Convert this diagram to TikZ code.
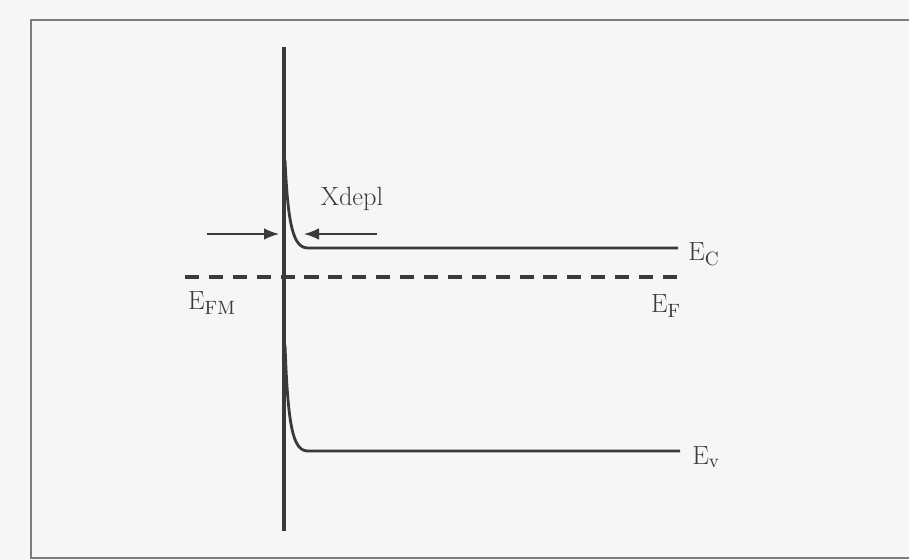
\documentclass[tikz,border=0pt]{standalone}
\usetikzlibrary{arrows.meta, positioning}
\definecolor{colorLinea}{HTML}{3A3A3A}
\definecolor{colorMarco}{HTML}{7C7C7C}
\definecolor{colorFondo}{HTML}{F6F6F6}

\begin{document}
\begin{tikzpicture}[x=0.02cm, y=-0.02cm,
        banda/.style={draw=colorLinea, line width=1.6pt},
        rel/.style={-{Latex[length=3mm, width=2.3mm]}, colorLinea, line width=0.8pt},
        etq/.style={font=\fontsize{15}{18}\selectfont, text=colorLinea, inner sep=0pt}
    ]
        \fill[colorFondo] (0,0) rectangle (909,560);
        \useasboundingbox (0,0) rectangle (909,560);
        \draw[colorMarco, line width=1.6pt] (909,20) -- (31,20) -- (31,558) -- (909,558);

        % interfaz metal / semiconductor
        \coordinate (intA) at (284,47);
        \coordinate (intB) at (284,531);
        \draw[colorLinea, line width=2.2pt] (intA) -- (intB);

        % bandas
        \coordinate (ecA) at (285,160);
        \coordinate (ecB) at (308,248);
        \coordinate (ecC) at (678,248);
        \coordinate (evA) at (285,345);
        \coordinate (evB) at (308,451);
        \coordinate (evC) at (680,451);
        \draw[banda] (ecA) .. controls (288,225) and (293,248) .. (ecB) -- (ecC);
        \draw[banda] (evA) .. controls (288,428) and (293,451) .. (evB) -- (evC);

        % nivel de Fermi
        \coordinate (efA) at (185,277);
        \coordinate (efB) at (682,277);
        \draw[colorLinea, line width=2.2pt, dash pattern=on 8pt off 5.6pt] (efA) -- (efB);

        % zona de agotamiento
        \coordinate (flA) at (207,234);
        \coordinate (flB) at (279,234);
        \coordinate (flC) at (377,234);
        \coordinate (flD) at (304,234);
        \draw[rel] (flA) -- (flB);
        \draw[rel] (flC) -- (flD);

        \node[etq] (xdepl) at (352,199) {Xdepl};
        \node[etq, anchor=west] (ec) at (688,254) {E$_{\mathrm{C}}$};
        \node[etq, anchor=west] (ev) at (692,457) {E$_{\mathrm{v}}$};
        \node[etq] (efm) at (212,303) {E$_{\mathrm{FM}}$};
        \node[etq] (ef) at (666,306) {E$_{\mathrm{F}}$};
    \end{tikzpicture}
\end{document}
